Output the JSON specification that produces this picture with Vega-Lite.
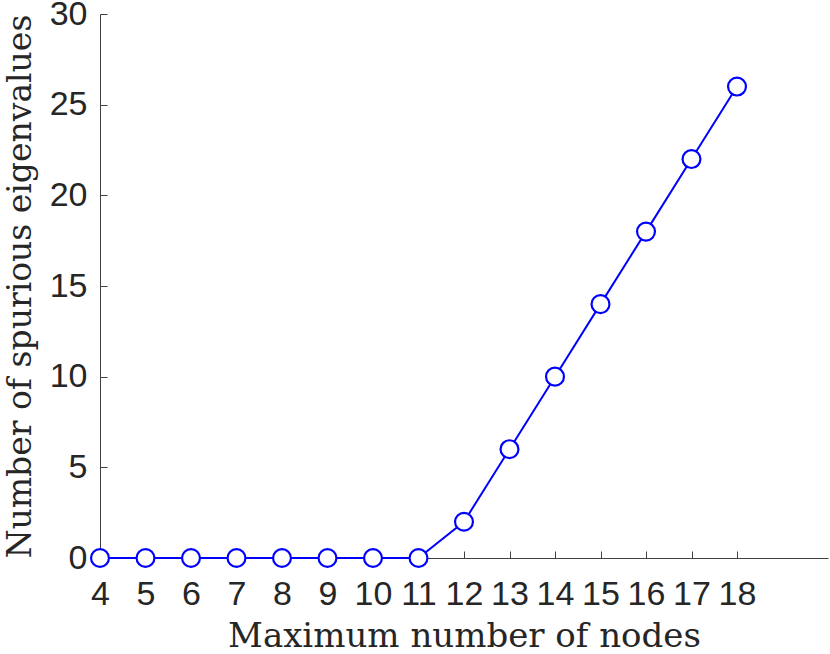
{
  "$schema": "https://vega.github.io/schema/vega-lite/v6.json",
  "width": 728,
  "height": 544,
  "autosize": {"type": "none"},
  "padding": {"left": 100, "top": 14, "right": 2, "bottom": 96},
  "background": "white",
  "config": {"view": {"stroke": null}},
  "data": {"values": [
    {"n": 4, "v": 0}, {"n": 5, "v": 0}, {"n": 6, "v": 0}, {"n": 7, "v": 0},
    {"n": 8, "v": 0}, {"n": 9, "v": 0}, {"n": 10, "v": 0}, {"n": 11, "v": 0},
    {"n": 12, "v": 2}, {"n": 13, "v": 6}, {"n": 14, "v": 10}, {"n": 15, "v": 14},
    {"n": 16, "v": 18}, {"n": 17, "v": 22}, {"n": 18, "v": 26}
  ]},
  "encoding": {
    "x": {"field": "n", "type": "quantitative", "scale": {"domain": [4, 20], "nice": false, "zero": false},
      "axis": {"values": [4,5,6,7,8,9,10,11,12,13,14,15,16,17,18], "grid": false, "title": "Maximum number of nodes",
        "domainColor": "#404040", "tickColor": "#404040", "tickSize": -7, "labelPadding": 26,
        "labelFont": "Liberation Sans", "labelFontSize": 34, "labelColor": "#262626", "labelFlush": false, "labelOverlap": false,
        "titleFont": "DejaVu Serif", "titleFontSize": 34, "titleFontWeight": "normal", "titleColor": "#262626", "titlePadding": 8}},
    "y": {"field": "v", "type": "quantitative", "scale": {"domain": [0, 30], "nice": false},
      "axis": {"values": [0,5,10,15,20,25,30], "grid": false, "title": "Number of spurious eigenvalues",
        "domainColor": "#404040", "tickColor": "#404040", "tickSize": -7, "labelPadding": 20,
        "labelFont": "Liberation Sans", "labelFontSize": 34, "labelColor": "#262626", "labelFlush": false, "labelOverlap": false,
        "titleFont": "DejaVu Serif", "titleFontSize": 33, "titleFontWeight": "normal", "titleColor": "#262626", "titlePadding": 12}}
  },
  "layer": [
    {"mark": {"type": "line", "color": "#0000FF", "strokeWidth": 2}},
    {"mark": {"type": "point", "shape": "circle", "filled": false, "fill": "white", "fillOpacity": 1, "stroke": "#0000FF", "strokeWidth": 2.2, "size": 320, "opacity": 1}}
  ]
}
